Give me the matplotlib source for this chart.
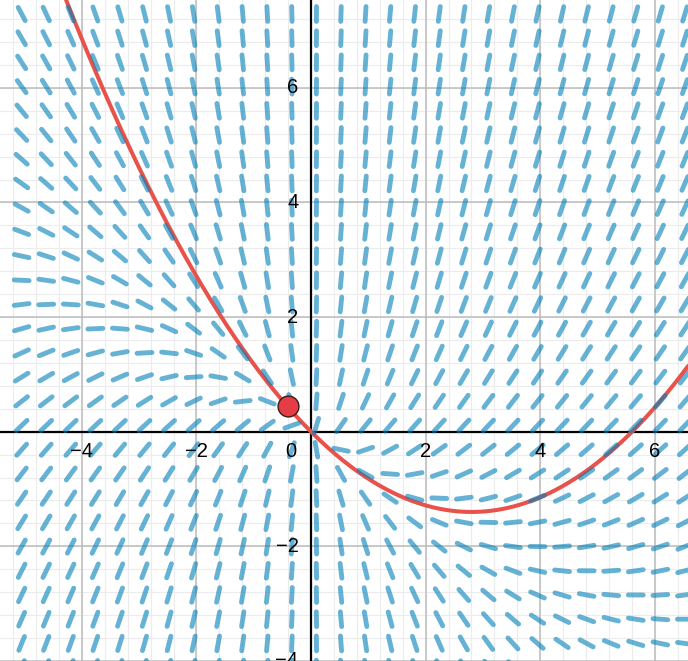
import numpy as np
import matplotlib
matplotlib.use("Agg")
import matplotlib.pyplot as plt
from matplotlib.collections import LineCollection

# slope field for dy/dx = 1 + 2y/x, sampled on a 28 x 28 lattice
col_start, col_step, n_cols = -5.05, 0.4287, 28
row_start, row_step, n_rows = 7.29, -0.4225, 28

# initial condition (draggable point) -> solution y = C x^2 - x
x0, y0 = -0.41, 0.44

x_ticks = [-4, -2, 0, 2, 4, 6]
y_ticks = [-4, -2, 2, 4, 6]
tick_labels_x = ["\u22124", "\u22122", "2", "4", "6"]
tick_labels_y = ["\u22124", "\u22122", "2", "4", "6"]

xlim = (-5.428, 6.579)
ylim = (-4.002, 7.534)

plt.rcParams["font.family"] = ["Liberation Sans", "DejaVu Sans"]

fig = plt.figure(figsize=(6.88, 6.61), dpi=100)
ax = fig.add_axes([0, 0, 1, 1])
ax.set_xlim(*xlim)
ax.set_ylim(*ylim)
for s in ax.spines.values():
    s.set_visible(False)
ax.set_xticks([])
ax.set_yticks([])

# grid: minor every 0.4, major every 2
minor = np.arange(-6, 8.01, 0.4)
for v in minor:
    ax.axvline(v, color="#ececec", lw=0.8, zorder=0)
    ax.axhline(v, color="#ececec", lw=0.8, zorder=0)
for v in range(-6, 9, 2):
    if v == 0:
        continue
    ax.axvline(v, color="#bcbcbc", lw=1.1, zorder=1)
    ax.axhline(v, color="#bcbcbc", lw=1.1, zorder=1)
ax.axvline(0, color="black", lw=1.6, zorder=2)
ax.axhline(0, color="black", lw=1.6, zorder=2)

# slope segments
xs = col_start + col_step * np.arange(n_cols)
ys = row_start + row_step * np.arange(n_rows)
X, Y = np.meshgrid(xs, ys)
dx = np.ones_like(X)
dy = X + 2 * Y            # (1 + 2y/x) scaled by x, keep sign via x
dx = X.copy()
norm = np.hypot(dx, dy)
half = 0.13
ux, uy = dx / norm * half, dy / norm * half
segs = np.stack([np.stack([X - ux, Y - uy], -1), np.stack([X + ux, Y + uy], -1)], -2)
segs = segs.reshape(-1, 2, 2)

# solution through the initial point
C = (y0 + x0) / x0 ** 2
cx = np.linspace(xlim[0], xlim[1], 600)
cy = C * cx ** 2 - cx
ax.plot(cx, cy, color="#e8524a", lw=2.9, zorder=3, solid_capstyle="round")

lc = LineCollection(segs, colors=[(0.0, 0.50, 0.73, 0.6)], linewidths=3.5,
                    capstyle="round", zorder=4)
ax.add_collection(lc)

ax.plot([x0], [y0], "o", ms=15, mfc="#e63c46", mec="#3a1a1a", mew=1.0, zorder=5)

# tick labels
fs = 14.5
for v, t in zip([-4, -2, 2, 4, 6], tick_labels_x):
    ax.text(v, -0.35, t, ha="center", va="center", fontsize=fs, zorder=6)
ax.text(-0.35, -0.35, "0", ha="center", va="center", fontsize=fs, zorder=6)
for v, t in zip(y_ticks, tick_labels_y):
    ax.text(-0.22, v, t, ha="right", va="center", fontsize=fs, zorder=6)

fig.savefig("out.png", dpi=100)
